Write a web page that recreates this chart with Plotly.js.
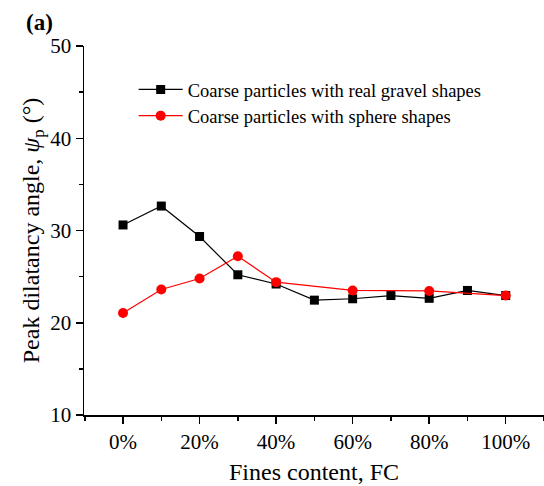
<!DOCTYPE html>
<html>
<head>
<meta charset="utf-8">
<script src="https://cdn.plot.ly/plotly-3.0.1.min.js"></script>
<style>html,body{margin:0;padding:0;background:#fff;}#chart{width:544px;height:486px;}</style>
</head>
<body>
<div id="chart"></div>
<script>
var fines = [0, 10, 20, 30, 40, 50, 60, 70, 80, 90, 100];
var realGravel = [30.6, 32.65, 29.35, 25.2, 24.2, 22.45, 22.6, 22.95, 22.65, 23.5, 22.95];
var finesSphere = [0, 10, 20, 30, 40, 60, 80, 100];
var sphere = [21.05, 23.6, 24.8, 27.2, 24.4, 23.5, 23.45, 22.95];
var xTicks = [0, 20, 40, 60, 80, 100];
var xTickLabels = ['0%', '20%', '40%', '60%', '80%', '100%'];
var yTicks = [10, 20, 30, 40, 50];

var font = 'Liberation Serif, Times New Roman, serif';
var traces = [
  {x: fines, y: realGravel, type: 'scatter', mode: 'lines+markers',
   name: 'Coarse particles with real gravel shapes', legend: 'legend',
   line: {color: '#000000', width: 1.2},
   marker: {symbol: 'square', size: 9, color: '#000000'}},
  {x: finesSphere, y: sphere, type: 'scatter', mode: 'lines+markers',
   name: 'Coarse particles with sphere shapes', legend: 'legend2',
   line: {color: '#ff0000', width: 1.2},
   marker: {symbol: 'circle', size: 10, color: '#ff0000'}}
];
var legendBase = {xanchor: 'left', yanchor: 'middle', bgcolor: 'rgba(0,0,0,0)',
                  font: {family: font, size: 18.5}, itemwidth: 44};
var layout = {
  width: 544, height: 486,
  margin: {l: 84, r: 0, t: 46, b: 71},
  paper_bgcolor: '#ffffff', plot_bgcolor: '#ffffff',
  font: {family: font, color: '#000000'},
  showlegend: true,
  legend: Object.assign({}, legendBase, {x: 0.108, y: 0.881}),
  legend2: Object.assign({}, legendBase, {x: 0.108, y: 0.810}),
  xaxis: {
    range: [-10.2, 110], showgrid: false, zeroline: false,
    showline: true, linecolor: '#000', linewidth: 1.5,
    tickmode: 'array', tickvals: xTicks, ticktext: xTickLabels,
    ticks: 'outside', ticklen: 7, tickwidth: 1.5, tickcolor: '#000',
    minor: {dtick: 10, tick0: 0, ticks: 'outside', ticklen: 4, tickwidth: 1.5, tickcolor: '#000', showgrid: false},
    tickfont: {family: font, size: 21},
    title: {text: 'Fines content, FC', font: {family: font, size: 24}, standoff: 10}
  },
  yaxis: {
    range: [10, 50], showgrid: false, zeroline: false,
    showline: true, linecolor: '#000', linewidth: 1.5,
    tickmode: 'array', tickvals: yTicks, ticks: 'outside', ticklen: 7, tickwidth: 1.5, tickcolor: '#000',
    minor: {dtick: 5, tick0: 0, ticks: 'outside', ticklen: 4, tickwidth: 1.5, tickcolor: '#000', showgrid: false},
    tickfont: {family: font, size: 21},
    title: {text: 'Peak dilatancy angle, <i>ψ</i><sub>p</sub> (°)', font: {family: font, size: 24}, standoff: 4}
  },
  annotations: [
    {text: '<b>(a)</b>', xref: 'paper', yref: 'paper', x: -0.096, y: 1.065, xanchor: 'center', yanchor: 'middle',
     showarrow: false, font: {family: font, size: 23}}
  ]
};
Plotly.newPlot('chart', traces, layout, {displayModeBar: false, staticPlot: true});
</script>
</body>
</html>
